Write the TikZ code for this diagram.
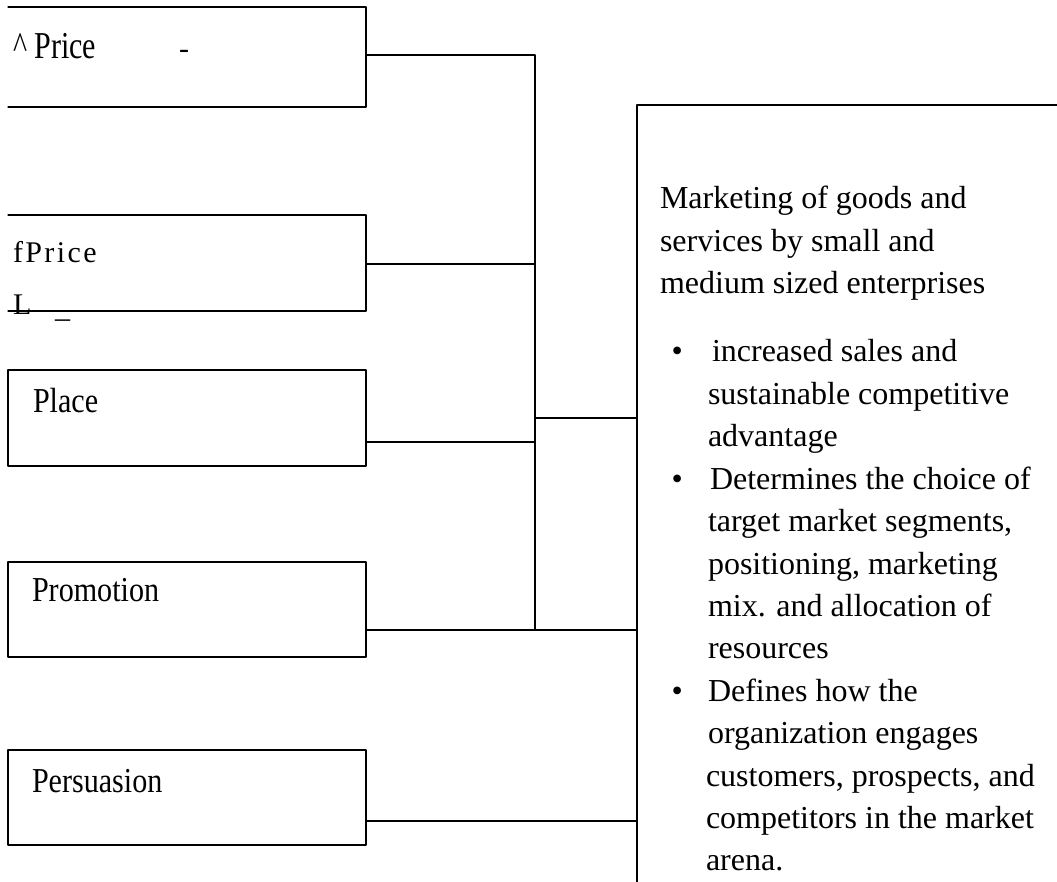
\documentclass[tikz,border=0pt]{standalone}
\usepackage{fontspec}
\setmainfont{Liberation Serif}
\newfontfamily\spacedfont[LetterSpace=8]{Liberation Serif}
\newfontfamily\narrowfont[FakeStretch=0.86]{Liberation Serif}
\newfontfamily\narrowerfont[FakeStretch=0.79]{Liberation Serif}
\begin{document}
\begin{tikzpicture}[x=1pt, y=-1pt, line cap=round, line join=round,
  every node/.style={inner sep=0pt, outer sep=0pt},
  mixbox/.style={minimum width=358pt, minimum height=#1, anchor=north west},
  mixtext/.style={font=\fontsize{30}{36}\selectfont, anchor=base west},
  narrowtext/.style={font=\fontsize{35}{40}\narrowfont, anchor=base west},
  goaltext/.style={font=\fontsize{32}{42}\selectfont, anchor=base west},
  wire/.style={line width=1.2pt}]
  \useasboundingbox (0,0) rectangle (1057,882);
  % The five boxes on the left (the first two have no left side)
  \node[mixbox=100pt] (price) at (8,7) {};
  \node[mixbox=96pt] (fprice) at (8,215) {};
  \node[mixbox=96pt, draw, line width=1.2pt] (place) at (8,370) {};
  \node[mixbox=95pt, draw, line width=1.2pt] (promo) at (8,562) {};
  \node[mixbox=95pt, draw, line width=1.2pt] (persu) at (8,750) {};
  \draw[wire] (price.north west) -- (price.north east) -- (price.south east) -- (price.south west);
  \draw[wire] (fprice.north west) -- (fprice.north east) -- (fprice.south east) -- (fprice.south west);
  % Texts in the boxes
  \node[narrowtext, font=\fontsize{38}{40}\narrowerfont] (t-price) at (13,59) {\textasciicircum{} Price};
  \node[mixtext] (t-dash) at (179,59) {-};
  \node[mixtext, font=\fontsize{30}{36}\spacedfont] (t-fprice) at (13,263) {fPrice};
  \node[mixtext] (t-l) at (13,315) {L};
  \node[mixtext] (t-under) at (55,318) {\_};
  \node[narrowtext] (t-place) at (33,412) {Place};
  \node[narrowtext] (t-promo) at (32,601) {Promotion};
  \node[narrowtext] (t-persu) at (32,792) {Persuasion};
  % The panel on the right (top and left side only)
  \node[minimum width=420pt, minimum height=777pt, anchor=north west] (goal) at (637,105) {};
  \draw[wire] (goal.north east) -- (goal.north west) -- (goal.south west);
  % Bus between the boxes and the panel
  \coordinate (j1) at (535,55);
  \coordinate (j2) at (535,264);
  \coordinate (j3) at (535,442);
  \coordinate (j5) at (535,418);
  \coordinate (j4) at (535,630);
  \draw[wire] (price.east |- j1) -- (j1) -- (j4);
  \draw[wire] (fprice.east |- j2) -- (j2);
  \draw[wire] (place.east |- j3) -- (j3);
  \draw[wire] (j5) -- (goal.west |- j5);
  \draw[wire] (promo.east |- j4) -- (goal.west |- j4);
  \draw[wire] (persu.east |- 0,821) -- (goal.west |- 0,821);
  % Text of the panel
  \foreach \yy/\txt [count=\i] in {209/{Marketing of goods and}, 251.5/{services by small and}, 294/{medium sized enterprises}}
    \node[goaltext] (head\i) at (660,\yy) {\txt};
  \foreach \xx/\txt [count=\i] in {712/{increased sales and}, 708/{sustainable competitive}, 708/{advantage},
      710/{Determines the choice of}, 708/{target market segments,}, 708/{positioning, marketing},
      708/{mix. and allocation of}, 708/{resources}, 708/{Defines how the},
      708/{organization engages}, 706/{customers, prospects, and}, 706/{competitors in the market}, 706/{arena.}}
    \node[goaltext] (item\i) at (\xx,{362+42.4*(\i-1)}) {\txt};
  \foreach \n in {1,4,9}
    \node[goaltext] (dot\n) at (671.5,0 |- item\n.base) {\textbullet};
\end{tikzpicture}
\end{document}
